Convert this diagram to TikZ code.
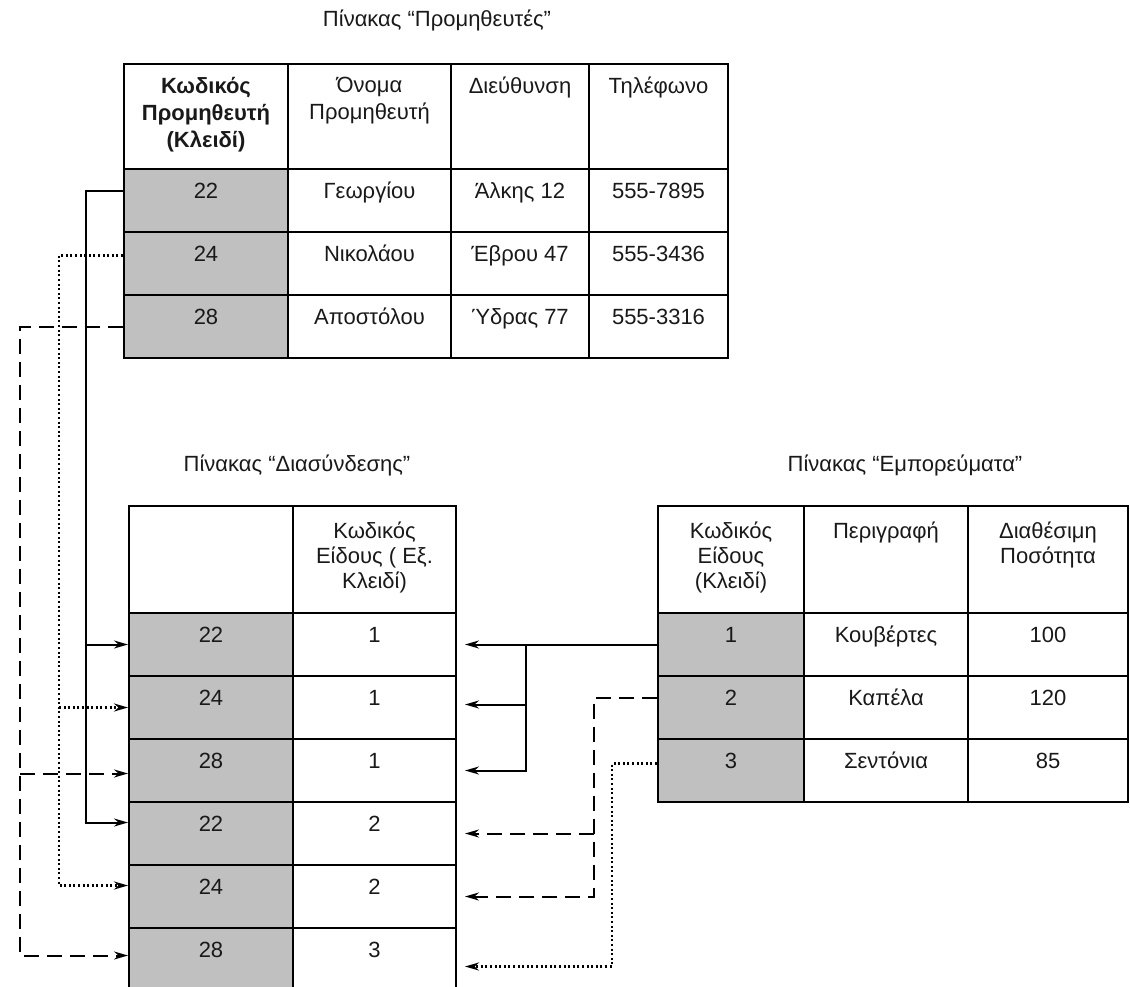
\documentclass[tikz,border=0pt]{standalone}
\usepackage{fontspec}
\setmainfont{Liberation Sans}
\usetikzlibrary{arrows.meta}
\definecolor{keygray}{RGB}{192,192,192}
\definecolor{ink}{RGB}{25,25,25}

\begin{document}
\begin{tikzpicture}[x=1pt, y=-1pt,
    cell/.style={rectangle, draw=black, line width=2pt, anchor=north west,
              inner sep=0pt, minimum height=63pt},
    key/.style={cell, fill=keygray},
    txt/.style={anchor=north, inner sep=0pt, align=center,
              color=ink, font=\fontsize{22}{27}\selectfont},
    hd/.style={label={[txt, yshift=-14pt]north:{#1}}},
    hdb/.style={label={[txt, yshift=-17pt,
              font=\fontsize{22}{25}\selectfont]north:{#1}}},
    dt/.style={label={[txt, text height=16pt, yshift=-14pt]north:{#1}}},
    title/.style={inner sep=0pt, color=ink, font=\fontsize{22}{27}\selectfont},
    link/.style={line width=2pt, draw=black},
    solidlink/.style={link, -{Stealth[length=14pt, width=8pt]}},
    dashlink/.style={link, dash pattern=on 15pt off 8pt,
              -{Stealth[open, length=14pt, width=8pt]}},
    dotlink/.style={link, line width=2.2pt, dash pattern=on 2pt off 2.6pt,
              -{Stealth[open, length=14pt, width=8pt]}}]
  \useasboundingbox (0,0) rectangle (1130,987);

  % ---------- Πίνακας "Προμηθευτές" ----------------------------------------
  \node[title] (tp) at (437,20) {Πίνακας “Προμηθευτές”};
  \node[cell, minimum width=164pt, minimum height=105pt,
        hd={\bfseries Κωδικός\\\bfseries Προμηθευτή\\\bfseries (Κλειδί)}] (ph0) at (123,63) {};
  \node[cell, minimum width=163pt, minimum height=105pt,
        hd={Όνομα\\Προμηθευτή}] (ph1) at (287,63) {};
  \node[cell, minimum width=138pt, minimum height=105pt, hd=Διεύθυνση] (ph2) at (450,63) {};
  \node[cell, minimum width=139pt, minimum height=105pt, hd=Τηλέφωνο] (ph3) at (588,63) {};
  \foreach \k/\n/\a/\t [count=\i] in {22/Γεωργίου/Άλκης 12/555-7895,
      24/Νικολάου/Έβρου 47/555-3436, 28/Αποστόλου/Ύδρας 77/555-3316} {
    \node[key,  minimum width=164pt, dt=\k] (p\i)  at (123,{168+(\i-1)*63}) {};
    \node[cell, minimum width=163pt, dt=\n] (pn\i) at (287,{168+(\i-1)*63}) {};
    \node[cell, minimum width=138pt, dt=\a] (pa\i) at (450,{168+(\i-1)*63}) {};
    \node[cell, minimum width=139pt, dt=\t] (pt\i) at (588,{168+(\i-1)*63}) {};
  }

  % ---------- Πίνακας "Διασύνδεσης" ----------------------------------------
  \node[title] (tl) at (297,465) {Πίνακας “Διασύνδεσης”};
  \node[cell, minimum width=164pt, minimum height=107pt] (lh0) at (128,505) {};
  \node[cell, minimum width=163pt, minimum height=107pt,
        hdb={Κωδικός\\Είδους ( Εξ.\\Κλειδί)}] (lh1) at (292,505) {};
  \foreach \s/\g [count=\i] in {22/1, 24/1, 28/1, 22/2, 24/2, 28/3} {
    \node[key,  minimum width=164pt, dt=\s] (l\i) at (128,{612+(\i-1)*63}) {};
    \node[cell, minimum width=163pt, dt=\g] (k\i) at (292,{612+(\i-1)*63}) {};
  }

  % ---------- Πίνακας "Εμπορεύματα" ----------------------------------------
  \node[title] (tg) at (905,465) {Πίνακας “Εμπορεύματα”};
  \node[cell, minimum width=146pt, minimum height=107pt,
        hdb={Κωδικός\\Είδους\\(Κλειδί)}] (gh0) at (657,505) {};
  \node[cell, minimum width=164pt, minimum height=107pt, hdb=Περιγραφή] (gh1) at (803,505) {};
  \node[cell, minimum width=160pt, minimum height=107pt,
        hdb={Διαθέσιμη\\Ποσότητα}] (gh2) at (967,505) {};
  \foreach \c/\d/\q [count=\i] in {1/Κουβέρτες/100, 2/Καπέλα/120, 3/Σεντόνια/85} {
    \node[key,  minimum width=146pt, dt=\c] (g\i)  at (657,{612+(\i-1)*63}) {};
    \node[cell, minimum width=164pt, dt=\d] (gd\i) at (803,{612+(\i-1)*63}) {};
    \node[cell, minimum width=160pt, dt=\q] (gq\i) at (967,{612+(\i-1)*63}) {};
  }

  % ---------- προμηθευτές -> διασύνδεση ------------------------------------
  \coordinate (sx) at (86,0);
  \coordinate (dx) at (59,0);
  \coordinate (ex) at (20,0);
  \coordinate (s4) at ([yshift=11pt]l4.west);
  \coordinate (s5) at ([yshift=11pt]l5.west);
  \coordinate (s6) at ([yshift=4pt]l6.west);
  \coordinate (s3) at ([yshift=-3pt]l3.west);
  \draw[solidlink] ([yshift=9pt]p1.west) -| (sx |- s4) -- (s4);
  \draw[solidlink] (sx |- l1.west) -- (l1.west);
  \draw[dotlink] ([yshift=8pt]p2.west) -| (dx |- s5) -- (s5);
  \draw[dotlink] (dx |- l2.west) -- (l2.west);
  \draw[dashlink] (p3.west) -| (ex |- s6) -- (s6);
  \draw[dashlink] (ex |- s3) -- (s3);

  % ---------- εμπορεύματα -> διασύνδεση ------------------------------------
  \coordinate (rx) at (526,0);
  \coordinate (qx) at (594,0);
  \coordinate (tx) at (612,0);
  \coordinate (r1) at ([xshift=8pt]k1.east);
  \coordinate (r2) at ([xshift=8pt, yshift=3pt]k2.east);
  \coordinate (r3) at ([xshift=8pt]k3.east);
  \coordinate (r4) at ([xshift=8pt]k4.east);
  \coordinate (r5) at ([xshift=8pt]k5.east);
  \coordinate (r6) at ([xshift=8pt, yshift=-7pt]k6.east);
  \draw[solidlink] (g1.west) -- (r1);
  \draw[solidlink] (rx |- g1.west) |- (r3);
  \draw[solidlink] (rx |- r2) -- (r2);
  \draw[dashlink] ([yshift=10pt]g2.west) -| (qx |- r5) -- (r5);
  \draw[dashlink] (qx |- r4) -- (r4);
  \draw[dotlink] ([yshift=7pt]g3.west) -| (tx |- r6) -- (r6);
\end{tikzpicture}
\end{document}
